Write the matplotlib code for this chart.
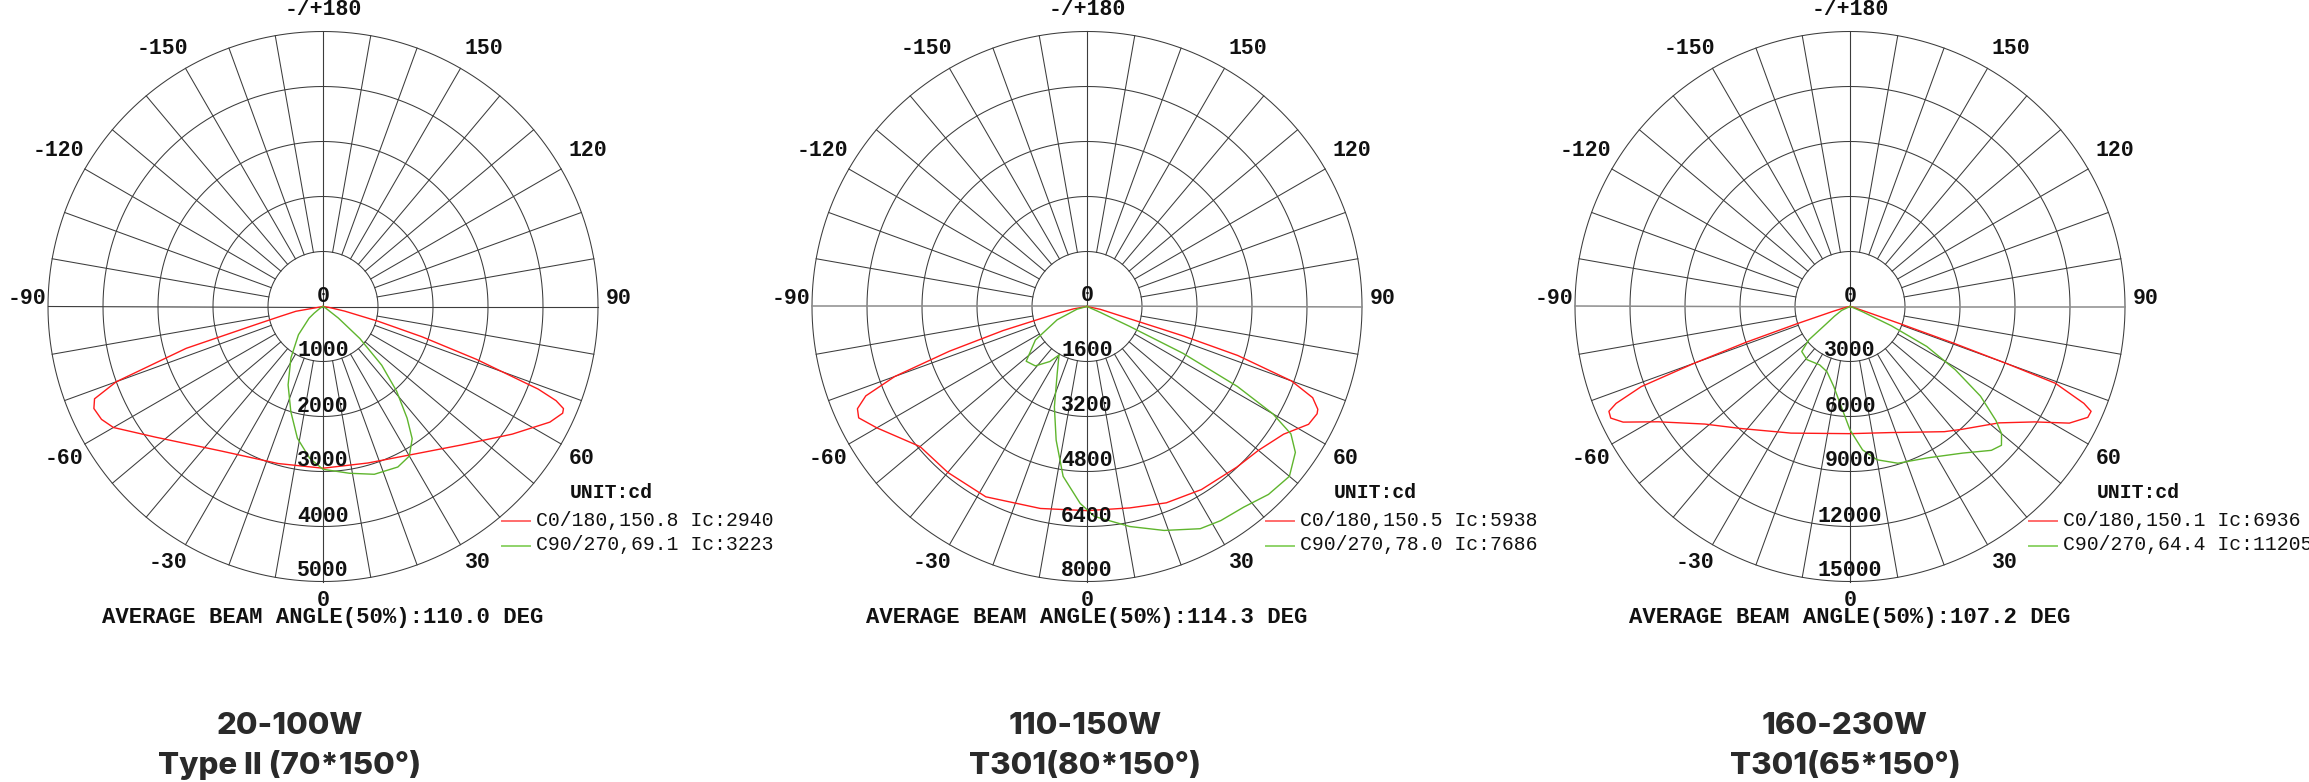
import numpy as np
import matplotlib
matplotlib.use("Agg")
import matplotlib.pyplot as plt
from matplotlib import transforms

# --- data (angle in deg from nadir, intensity in cd) ---
c0_ang_1 = [-90, -80, -77, -75, -73, -70, -68, -66, -63, -60, -52, -35, -16, 0,
            16, 31, 45, 56, 63, 66, 67, 68, 69, 71, 73, 75, 78, 82, 90]
c0_val_1 = [0, 500, 800, 1250, 2600, 4000, 4480, 4560, 4520, 4400, 3860, 3210, 2970, 2940,
            2960, 3140, 3560, 4150, 4630, 4770, 4750, 4570, 4190, 2950, 1880, 1040, 400, 100, 0]
c90_ang_1 = [-90, -60, -53, -50, -41, -32, -24, -17, -11, -5, 0,
             9, 17, 25, 30, 34, 37, 41, 45, 49, 53, 60, 90]
c90_val_1 = [0, 60, 200, 330, 680, 1100, 1560, 2000, 2440, 2770, 2960,
             3070, 3190, 3220, 3140, 2900, 2540, 2040, 1510, 890, 350, 50, 0]

c0_ang_2 = [-90, -80, -77, -74, -72, -70, -68, -66, -64, -60, -50, -40, -28, -13, 0,
            12, 22, 32, 43, 50, 57, 62, 65, 66, 68, 70, 72, 73, 74, 78, 90]
c0_val_2 = [0, 400, 890, 2540, 4210, 5950, 6940, 7310, 7390, 7060, 6340, 6300, 6270, 6030, 5938,
            5990, 6160, 6280, 6390, 6510, 6820, 7300, 7385, 7350, 7080, 6330, 4610, 2930, 1270, 400, 0]
c90_ang_2 = [-90, -75, -66, -57, -48, -41, -34, -30, -24, -18, -13, -8, -2, 2,
             11, 19, 27, 32, 38, 44, 50, 55, 58, 60, 62, 64, 65, 66, 90]
c90_val_2 = [0, 300, 950, 1790, 2380, 2290, 1930, 1630, 2130, 3070, 3990, 4990, 5730, 6110,
             6520, 6890, 7255, 7344, 7406, 7600, 7686, 7400, 6995, 6246, 4954, 3112, 1358, 434, 0]

c0_ang_3 = [-90, -80, -74, -72, -71, -70, -69, -67.5, -66.5, -65, -63, -59, -51, -42, -25, 0,
            18, 37, 42.5, 52, 58, 62, 65, 66.5, 67.5, 69.5, 70, 70.5, 71, 72, 80, 90]
c0_val_3 = [0, 200, 1000, 3000, 6000, 9000, 12200, 13810, 14340, 14400, 13890, 12210, 10190, 8950, 7620, 6936,
            7230, 8550, 9080, 10310, 11880, 13550, 14310, 14340, 13810, 11960, 9000, 6000, 3000, 1000, 100, 0]
c90_ang_3 = [-90, -65, -58, -54, -51, -47, -39, -27.5, -19.5, -11.5, -5, 0,
             5, 10, 17, 27, 37.5, 44.5, 47.5, 50, 52, 55.5, 59, 62.5, 65, 67, 70, 90]
c90_val_3 = [0, 500, 1000, 1560, 2890, 3600, 3730, 3590, 3770, 4450, 5480, 6730,
             7850, 8490, 8940, 9270, 10080, 11000, 11205, 10790, 10100, 8640, 6700, 4720, 2500, 800, 200, 0]

ring_step = [1000, 1600, 3000]
legend_c0 = ["C0/180,150.8 Ic:2940", "C0/180,150.5 Ic:5938", "C0/180,150.1 Ic:6936"]
legend_c90 = ["C90/270,69.1 Ic:3223", "C90/270,78.0 Ic:7686", "C90/270,64.4 Ic:11205"]
beam_angle = ["110.0", "114.3", "107.2"]
title_top = ["20-100W", "110-150W", "160-230W"]
title_bottom = ["Type II (70*150°)", "T301(80*150°)", "T301(65*150°)"]

curves = [(c0_ang_1, c0_val_1, c90_ang_1, c90_val_1),
          (c0_ang_2, c0_val_2, c90_ang_2, c90_val_2),
          (c0_ang_3, c0_val_3, c90_ang_3, c90_val_3)]

# angle labels: text, placement angle, radius factor
ang_labels = [("-/+180", 180, 1.08), ("150", 148, 1.105), ("-150", -148, 1.105),
              ("120", 120.5, 1.118), ("-120", -120.5, 1.118), ("90", 91.5, 1.077),
              ("-90", -91.5, 1.077), ("60", 59.6, 1.092), ("-60", -59.6, 1.092),
              ("30", 31.2, 1.088), ("-30", -31.2, 1.088), ("0", 0, 1.07)]

W, H = 2309, 782
fig = plt.figure(figsize=(W / 100, H / 100), dpi=100)
MONO = "Liberation Mono"
RED = "#ff1a1a"
GREEN = "#5fb52d"

centers_x = [323, 1087, 1850]
title_x = [290, 1085, 1845]
cy = 306.5
R = 275

def fx(px):
    return px / W

def fy(py):
    return 1 - py / H

for i in range(3):
    cx = centers_x[i]
    step = ring_step[i]
    rmax = 5 * step
    ax = fig.add_axes([fx(cx - R), fy(cy + R), 2 * R / W, 2 * R / H], projection="polar")
    ax.set_theta_zero_location("S")
    ax.set_ylim(0, rmax)
    ax.grid(False)
    ax.set_xticks([])
    ax.set_yticks([])
    ax.spines["polar"].set_visible(False)
    ax.patch.set_alpha(0)

    gcol = "#3c3c3c"
    th = np.linspace(0, 2 * np.pi, 721)
    for k in range(1, 6):
        ax.plot(th, np.full_like(th, k * step), color=gcol, lw=0.75, clip_on=False)
    for a in range(0, 360, 10):
        t = np.deg2rad(a)
        if a % 90 == 0:
            c = gcol if (i == 0 or a % 180 == 0) else "#8c8c8c"
            ax.plot([t, t], [0, rmax], color=c, lw=0.8 if c == gcol else 1.1, clip_on=False)
        else:
            ax.plot([t, t], [step, rmax], color=gcol, lw=0.75, clip_on=False)

    a0, v0, a90, v90 = curves[i]
    ax.plot(np.deg2rad(a0), v0, color=RED, lw=1.0, clip_on=False, zorder=5)
    ax.plot(np.deg2rad(a90), v90, color=GREEN, lw=1.0, clip_on=False, zorder=6)

    # radial value labels
    off = transforms.offset_copy(ax.transData, fig=fig, x=0, y=10.5, units="dots")
    for k in range(0, 6):
        ax.text(0, k * step, str(k * step), transform=off, ha="center", va="center",
                fontsize=15.5, family=MONO, fontweight="bold", color="#111111", zorder=7)

    for txt, ang, f in ang_labels:
        ax.text(np.deg2rad(ang), rmax * f, txt, ha="center", va="center",
                fontsize=15.5, family=MONO, fontweight="bold", color="#111111")

    # legend block
    fig.text(fx(cx + 247), fy(493), "UNIT:cd", ha="left", va="center",
             fontsize=14.2, family=MONO, fontweight="bold", color="#111111")
    fig.add_artist(plt.Line2D([fx(cx + 179), fx(cx + 207)], [fy(520.5), fy(520.5)],
                              color="#ff6b6b", lw=1.4))
    fig.add_artist(plt.Line2D([fx(cx + 179), fx(cx + 207)], [fy(545.5), fy(545.5)],
                              color="#8fd36a", lw=1.4))
    fig.text(fx(cx + 213), fy(520), legend_c0[i], ha="left", va="center",
             fontsize=14.2, family=MONO, color="#111111")
    fig.text(fx(cx + 213), fy(545), legend_c90[i], ha="left", va="center",
             fontsize=14.2, family=MONO, color="#111111")

    fig.text(fx(cx), fy(618), "AVERAGE BEAM ANGLE(50%):" + beam_angle[i] + " DEG",
             ha="center", va="center", fontsize=16, family=MONO, fontweight="bold",
             color="#111111")

    fig.text(fx(title_x[i]), fy(734), title_top[i], ha="center", va="baseline",
             fontsize=22.5, family="Inter", fontweight="heavy", color="#2a2a2a")
    fig.text(fx(title_x[i]), fy(774), title_bottom[i], ha="center", va="baseline",
             fontsize=22.5, family="Inter", fontweight="heavy", color="#2a2a2a")

fig.savefig("out.png", dpi=100, facecolor="white")
